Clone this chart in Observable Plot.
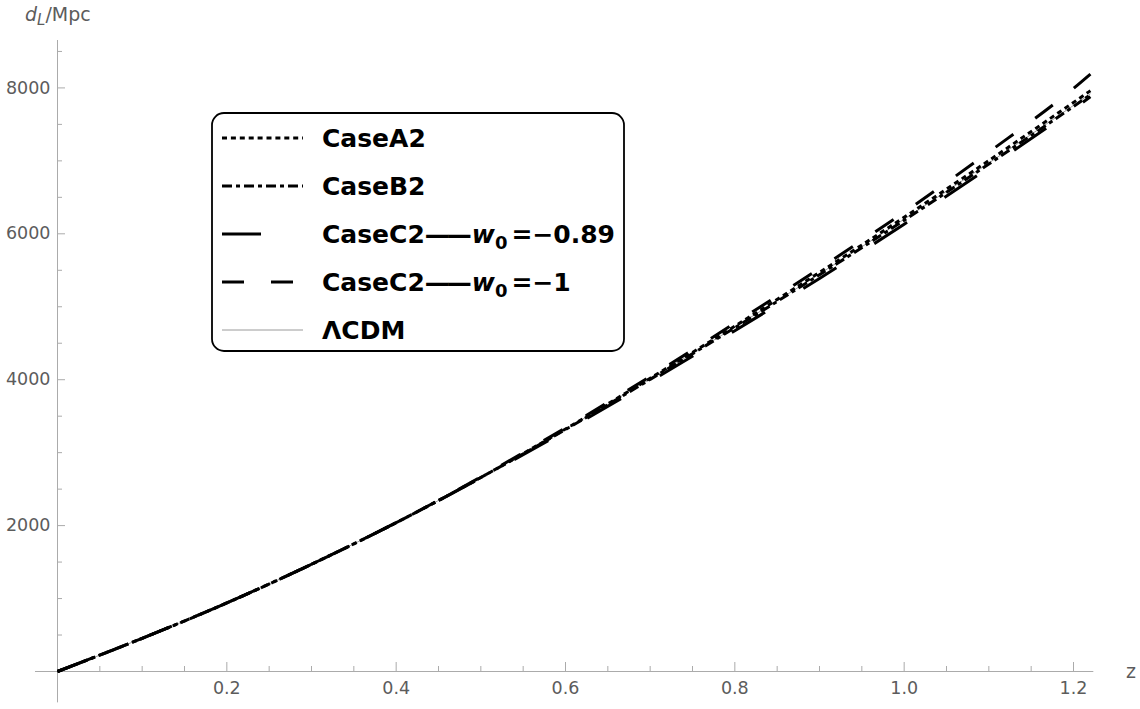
<!DOCTYPE html>
<html><head><meta charset="utf-8">
<script src="https://cdn.jsdelivr.net/npm/d3@7"></script>
<script src="https://cdn.jsdelivr.net/npm/@observablehq/plot@0.6"></script>
<style>
html,body{margin:0;padding:0;background:#fff;}
#chart{width:1140px;height:709px;}
</style>
</head><body><div id="chart"></div>
<script>
// ---- data ----
const zValues   = [0, 0.1, 0.2, 0.3, 0.4, 0.5, 0.6, 0.7, 0.8, 0.9, 1.0, 1.1, 1.2, 1.22];
const dCaseA2   = [0, 455, 940, 1470, 2040, 2660, 3324, 4020, 4734, 5471, 6227, 7004, 7801, 7961];
const dCaseB2   = [0, 455, 940, 1470, 2040, 2660, 3317, 4005, 4712, 5439, 6186, 6956, 7746, 7906];
const dCaseC2a  = [0, 455, 940, 1470, 2040, 2653, 3299, 3976, 4672, 5388, 6132, 6908, 7712, 7879]; // w0=-0.89
const dCaseC2b  = [0, 455, 940, 1470, 2040, 2667, 3341, 4044, 4775, 5525, 6296, 7121, 7993, 8190]; // w0=-1
const dLCDM     = [0, 455, 940, 1470, 2040, 2660, 3320, 4010, 4720, 5450, 6200, 6970, 7760, 7920];

const xMajorTicks = [0.2, 0.4, 0.6, 0.8, 1.0, 1.2];
const xMinorTicks = [0.05, 0.1, 0.15, 0.25, 0.3, 0.35, 0.45, 0.5, 0.55, 0.65, 0.7, 0.75, 0.85, 0.9, 0.95, 1.05, 1.1, 1.15];
const yMajorTicks = [2000, 4000, 6000, 8000];
const yMinorTicks = [500, 1000, 1500, 2500, 3000, 3500, 4500, 5000, 5500, 6500, 7000, 7500, 8500];

const legendLabels = ["CaseA2", "CaseB2", "CaseC2", "CaseC2", "ΛCDM"];
const legendW0 = [null, null, "−0.89", "−1", null];

// ---- styles ----
const series = [
  {vals: dLCDM,    stroke: "#9a9a9a", width: 1, dash: null},
  {vals: dCaseA2,  stroke: "#000", width: 3, dash: "5,3.9"},
  {vals: dCaseB2,  stroke: "#000", width: 3, dash: "10,4,4,4"},
  {vals: dCaseC2a, stroke: "#000", width: 3, dash: "39,45"},
  {vals: dCaseC2b, stroke: "#000", width: 3, dash: "22,27"}
];
const legendOrder = [1, 2, 3, 4, 0];

const rows = vals => zValues.map((z, i) => ({z, d: vals[i]}));
const axisGray = "#ababab", labelGray = "#5c5c5c";

const plot = Plot.plot({
  width: 1140, height: 709,
  marginLeft: 57, marginRight: 67, marginTop: 40, marginBottom: 38,
  x: {domain: [0, 1.2]},
  y: {domain: [0, 8650]},
  style: {fontFamily: "DejaVu Sans", fontSize: "17.5px", background: "#fff", overflow: "visible"},
  marks: [
    Plot.ruleY([0], {x1: -0.026, x2: 1.224, stroke: axisGray}),
    Plot.ruleX([0], {y1: -430, y2: 8650, stroke: axisGray}),
    Plot.axisX(xMinorTicks, {anchor: "bottom", tickSize: -5, tickFormat: () => "", stroke: axisGray, label: null}),
    Plot.axisX(xMajorTicks, {anchor: "bottom", tickSize: -9, tickPadding: 19, tickFormat: d => d.toFixed(1),
      fontSize: 17.5, stroke: axisGray, fill: labelGray, label: null}),
    Plot.axisY(yMinorTicks, {anchor: "left", tickSize: -5, tickFormat: () => "", stroke: axisGray, label: null}),
    Plot.axisY(yMajorTicks, {anchor: "left", tickSize: -8, tickPadding: 15, tickFormat: d => String(d),
      fontSize: 17.5, stroke: axisGray, fill: labelGray, label: null}),
    ...series.map(s => Plot.line(rows(s.vals), {
      x: "z", y: "d", stroke: s.stroke, strokeWidth: s.width,
      strokeDasharray: s.dash, strokeLinecap: "butt", curve: "monotone-x"
    }))
  ]
});
document.getElementById("chart").append(plot);

// ---- axis titles and legend ----
const svg = d3.select(plot);
const yt = svg.append("text").attr("x", 25).attr("y", 21).attr("text-anchor", "start")
  .attr("font-family", "DejaVu Sans").attr("font-size", 19).attr("fill", labelGray);
yt.append("tspan").attr("font-style", "italic").text("d");
yt.append("tspan").attr("font-style", "italic").attr("font-size", 15).attr("dy", 4).text("L");
yt.append("tspan").attr("dy", -4).text("/Mpc");
svg.append("text").attr("x", 1126).attr("y", 678).attr("text-anchor", "start")
  .attr("font-family", "DejaVu Sans").attr("font-size", 19).attr("fill", labelGray).text("z");

const lg = svg.append("g").attr("text-anchor", "start");
lg.append("rect").attr("x", 212).attr("y", 113).attr("width", 412).attr("height", 238)
  .attr("rx", 12).attr("fill", "#fff").attr("stroke", "#000").attr("stroke-width", 1.8);
const rowY = [138, 186, 234, 282, 330];
legendOrder.forEach((si, k) => {
  const s = series[si];
  const y = rowY[k];
  lg.append("line").attr("x1", 222).attr("x2", 303).attr("y1", y).attr("y2", y)
    .attr("stroke", s.stroke).attr("stroke-width", s.width)
    .attr("stroke-dasharray", s.dash).attr("stroke-linecap", "butt");
  const t = lg.append("text").attr("x", 322).attr("y", y + 9).attr("text-anchor", "start")
    .attr("font-family", "DejaVu Sans").attr("font-weight", "bold").attr("font-size", 25).attr("fill", "#000");
  if (legendW0[k]) {
    t.append("tspan").text(legendLabels[k]);
    t.append("tspan").attr("letter-spacing", -3).text("——");
    t.append("tspan").attr("dx", 3).attr("font-style", "italic").text("w");
    t.append("tspan").attr("font-size", 18).attr("dy", 6).text("0");
    t.append("tspan").attr("dy", -6).attr("dx", 4).text("=" + legendW0[k]);
  } else {
    t.text(legendLabels[k]);
  }
});
</script>
</body></html>
